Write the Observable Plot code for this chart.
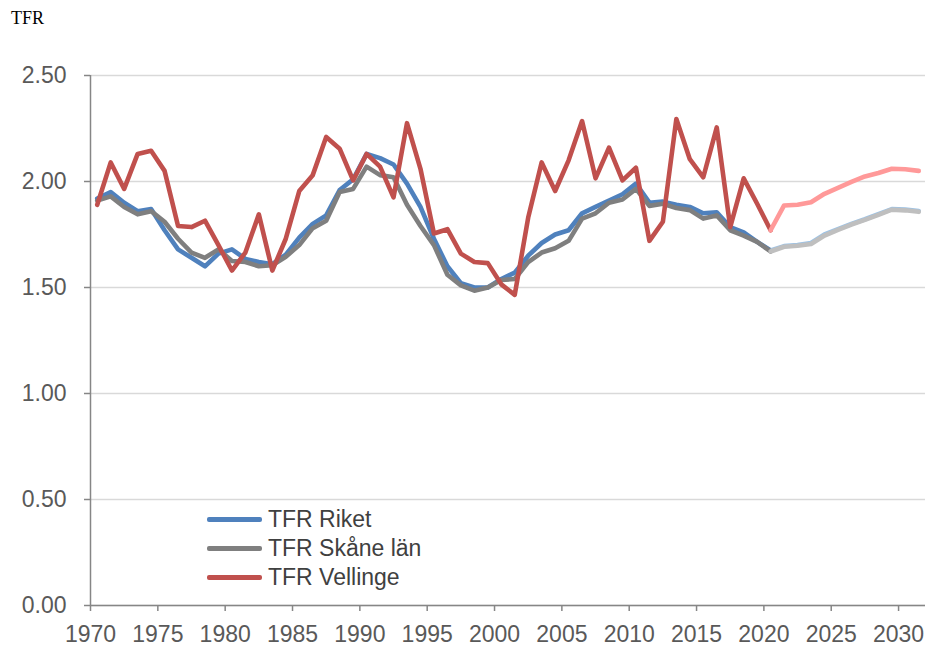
<!DOCTYPE html>
<html>
<head>
<meta charset="utf-8">
<script src="https://cdn.jsdelivr.net/npm/d3@7"></script>
<script src="https://cdn.jsdelivr.net/npm/@observablehq/plot@0.6"></script>
<style>
  html, body { margin: 0; padding: 0; background: #fff; }
  #wrap { position: relative; width: 935px; height: 646px; font-family: "Liberation Sans", Arial, sans-serif; }
  #title { position: absolute; left: 11px; top: 8px; font-family: "Liberation Serif", "Times New Roman", serif; font-size: 18px; color: #000; }
  #legend { position: absolute; left: 207px; top: 505px; }
  .row { display: flex; align-items: center; height: 29px; font-size: 23px; color: #404040; }
  .sw { width: 55px; height: 5px; margin-right: 6px; border-radius: 2px; }
</style>
</head>
<body>
<div id="wrap">
  <div id="chart"></div>
  <div id="title">TFR</div>
  <div id="legend"></div>
</div>
<script>
const years = d3.range(1970, 2021);
const riket = [1.92,1.95,1.90,1.86,1.87,1.77,1.68,1.64,1.60,1.66,1.68,1.635,1.62,1.61,1.655,1.735,1.80,1.84,1.96,2.01,2.13,2.11,2.08,1.99,1.88,1.73,1.60,1.52,1.50,1.50,1.54,1.57,1.65,1.71,1.75,1.77,1.85,1.88,1.91,1.94,1.99,1.90,1.905,1.89,1.88,1.85,1.855,1.785,1.76,1.715,1.675];
const skane = [1.91,1.93,1.88,1.845,1.86,1.81,1.73,1.665,1.64,1.68,1.625,1.62,1.60,1.605,1.645,1.70,1.78,1.815,1.95,1.965,2.07,2.03,2.02,1.89,1.79,1.70,1.56,1.51,1.485,1.50,1.535,1.54,1.62,1.665,1.685,1.72,1.825,1.85,1.90,1.915,1.965,1.885,1.895,1.875,1.865,1.825,1.84,1.77,1.745,1.715,1.67];
const vellinge = [1.89,2.09,1.965,2.13,2.145,2.05,1.79,1.785,1.815,1.70,1.58,1.665,1.845,1.58,1.73,1.955,2.03,2.21,2.155,2.005,2.13,2.07,1.925,2.275,2.06,1.755,1.775,1.66,1.62,1.615,1.515,1.465,1.83,2.09,1.955,2.10,2.285,2.015,2.16,2.005,2.065,1.72,1.81,2.295,2.105,2.02,2.255,1.785,2.015,1.895,1.77];
const projYears = d3.range(2021, 2032);
const riketProj = [1.695,1.70,1.71,1.75,1.775,1.80,1.822,1.846,1.87,1.868,1.861];
const skaneProj = [1.692,1.697,1.705,1.745,1.772,1.797,1.819,1.843,1.867,1.864,1.857];
const vellingeProj = [1.887,1.89,1.902,1.942,1.97,1.998,2.024,2.04,2.06,2.058,2.05];
const xTicks = d3.range(1970, 2031, 5);
const yTicks = [0, 0.5, 1, 1.5, 2, 2.5];
const seriesNames = ["TFR Riket", "TFR Skåne län", "TFR Vellinge"];
const colors = ["#4F81BD", "#7F7F7F", "#C0504D"];
const projColors = ["#9DC3E6", "#BFBFBF", "#FF9999"];

const actual = [riket, skane, vellinge].map(vals => years.map((y, i) => ({year: y, v: vals[i]})));
const proj = [riketProj, skaneProj, vellingeProj].map((vals, k) => {
  const last = actual[k][actual[k].length - 1];
  return [last, ...projYears.map((y, i) => ({year: y, v: vals[i]}))];
});

const lineOpts = (c) => ({x: d => d.year + 0.5, y: "v", stroke: c, strokeWidth: 4.6, strokeLinejoin: "round", strokeLinecap: "round"});

const chart = Plot.plot({
  width: 935, height: 646,
  marginLeft: 90, marginRight: 10, marginTop: 75, marginBottom: 41,
  x: {domain: [1970, 2032]},
  y: {domain: [0, 2.5]},
  style: {fontFamily: "'Liberation Sans', Arial, sans-serif", fontSize: "23px", background: "white", overflow: "visible"},
  marks: [
    Plot.gridY(yTicks, {stroke: "#D9D9D9", strokeOpacity: 1, strokeWidth: 1.5}),
    Plot.axisY(yTicks, {tickSize: 6, tickPadding: 18, tickFormat: d3.format(".2f"), stroke: "#868686", fill: "#595959", strokeWidth: 1.5, label: null}),
    Plot.axisX(xTicks, {tickSize: 6, tickPadding: 14, tickFormat: d => String(d), stroke: "#868686", fill: "#595959", strokeWidth: 1.5, label: null}),
    Plot.ruleX([1970], {stroke: "#868686", strokeWidth: 1.5}),
    Plot.ruleY([0], {stroke: "#868686", strokeWidth: 1.5}),
    Plot.line(actual[0], lineOpts(colors[0])),
    Plot.line(proj[0], lineOpts(projColors[0])),
    Plot.line(actual[1], lineOpts(colors[1])),
    Plot.line(proj[1], lineOpts(projColors[1])),
    Plot.line(actual[2], lineOpts(colors[2])),
    Plot.line(proj[2], lineOpts(projColors[2]))
  ]
});
document.getElementById("chart").appendChild(chart);

const legend = document.getElementById("legend");
seriesNames.forEach((name, i) => {
  const row = document.createElement("div");
  row.className = "row";
  const sw = document.createElement("div");
  sw.className = "sw";
  sw.style.background = colors[i];
  const t = document.createElement("span");
  t.textContent = name;
  row.appendChild(sw); row.appendChild(t);
  legend.appendChild(row);
});
</script>
</body>
</html>
